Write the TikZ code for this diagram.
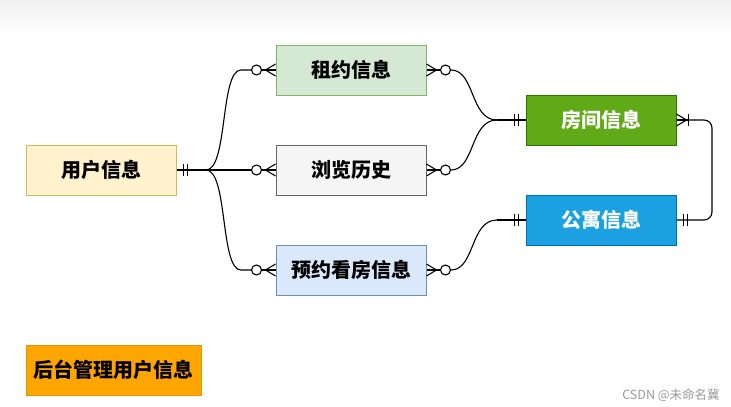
\documentclass[tikz,border=0pt]{standalone}
\usepackage{fontspec}
\newfontfamily\cjk{Noto Sans CJK SC}
\usetikzlibrary{calc}

\definecolor{userF}{HTML}{FFF2CC}\definecolor{userD}{HTML}{D6B656}
\definecolor{leaseF}{HTML}{D5E8D4}\definecolor{leaseD}{HTML}{82B366}
\definecolor{histF}{HTML}{F5F5F5}\definecolor{histD}{HTML}{666666}
\definecolor{visitF}{HTML}{DAE8FC}\definecolor{visitD}{HTML}{6C8EBF}
\definecolor{roomF}{HTML}{60A917}\definecolor{roomD}{HTML}{2D7600}
\definecolor{aptF}{HTML}{1BA1E2}\definecolor{aptD}{HTML}{006EAF}
\definecolor{adminF}{HTML}{FFA500}\definecolor{adminD}{HTML}{D79B00}

\tikzstyle{eB}=[rectangle,minimum width=150pt,minimum height=50pt,inner sep=0pt,line width=1pt,font=\cjk\bfseries\fontsize{20}{22}\selectfont]
\tikzstyle{lS}=[line width=1.1pt,black]
\tikzstyle{cS}=[circle,draw,line width=1.1pt,fill=white,minimum size=10pt,inner sep=0pt]
\tikzstyle{wS}=[text=black!40,inner sep=0pt,font=\cjk\fontsize{12.5}{14}\selectfont]

\begin{document}
\begin{tikzpicture}[x=1pt,y=-1pt]
    \useasboundingbox (0,0) rectangle (731,407);
    \shade[top color=black!6,bottom color=white] (0,0) rectangle (731,34);
    \draw (101,170) node[eB,fill=userF,draw=userD] (user) {用户信息};
    \draw (351,70) node[eB,fill=leaseF,draw=leaseD] (lease) {租约信息};
    \draw (351,170) node[eB,fill=histF,draw=histD] (hist) {浏览历史};
    \draw (351,270) node[eB,fill=visitF,draw=visitD] (visit) {预约看房信息};
    \draw (601,120) node[eB,fill=roomF,draw=roomD,text=white] (room) {房间信息};
    \draw (601,220) node[eB,fill=aptF,draw=aptD,text=white] (apt) {公寓信息};
    \draw (113.5,370) node[eB,minimum width=175pt,fill=adminF,draw=adminD] (admin) {后台管理用户信息};
    \node[wS] (wm) at (671,395) {CSDN @未命名冀};

    % circles of the zero-or-many ends
    \node[cS] (lzW) at ($(lease.west)+(-19,0)$) {};
    \node[cS] (hzW) at ($(hist.west)+(-19,0)$) {};
    \node[cS] (vzW) at ($(visit.west)+(-19,0)$) {};
    \node[cS] (lzE) at ($(lease.east)+(19,0)$) {};
    \node[cS] (hzE) at ($(hist.east)+(19,0)$) {};
    \node[cS] (vzE) at ($(visit.east)+(19,0)$) {};
    \coordinate (jU) at (206,170);
    \coordinate (jR) at (497,120);
    \coordinate (jA) at (497,220);

    \path
        (user.east) edge[lS] (jU)
        (jU) edge[lS] (hzW.west)
        (jR) edge[lS] (room.west)
        (jA) edge[lS] (apt.west)
    ;
    \draw[lS] (jU) .. controls (228,170) and (220,70) .. ($(lzW.west)+(-10,0)$) -- (lzW.west);
    \draw[lS] (jU) .. controls (228,170) and (220,270) .. ($(vzW.west)+(-10,0)$) -- (vzW.west);
    \draw[lS] (lzE.east) .. controls (475,70) and (470,120) .. (jR);
    \draw[lS] (hzE.east) .. controls (475,170) and (470,120) .. (jR);
    \draw[lS] (vzE.east) .. controls (475,270) and (470,220) .. (jA);
    \draw[lS,rounded corners=8pt] (apt.east) -- (712,220) -- (712,120) -- (room.east);

    % crow feet
    \foreach \n/\c/\s in {lease/lzW/-1,hist/hzW/-1,visit/vzW/-1,lease/lzE/1,hist/hzE/1,visit/vzE/1}{
        \draw[lS] (\c) -- ($(\n.\ifnum\s<0 west\else east\fi)$);
    }
    \foreach \a/\s in {lease.west/-1,hist.west/-1,visit.west/-1,lease.east/1,hist.east/1,visit.east/1,room.east/1}{
        \draw[lS] ($(\a)+(\s*10,0)$) -- ($(\a)+(0,-6)$)
                  ($(\a)+(\s*10,0)$) -- ($(\a)+(0,6)$);
    }
    % bars
    \foreach \a/\s in {user.east/1,room.west/-1,apt.west/-1,apt.east/1}{
        \draw[lS] ($(\a)+(\s*7,-6)$) -- ++(0,12)
                  ($(\a)+(\s*11,-6)$) -- ++(0,12);
    }
    \draw[lS] (room.east) -- ++(12,0) ($(room.east)+(12,-6)$) -- ++(0,12);
\end{tikzpicture}
\end{document}
